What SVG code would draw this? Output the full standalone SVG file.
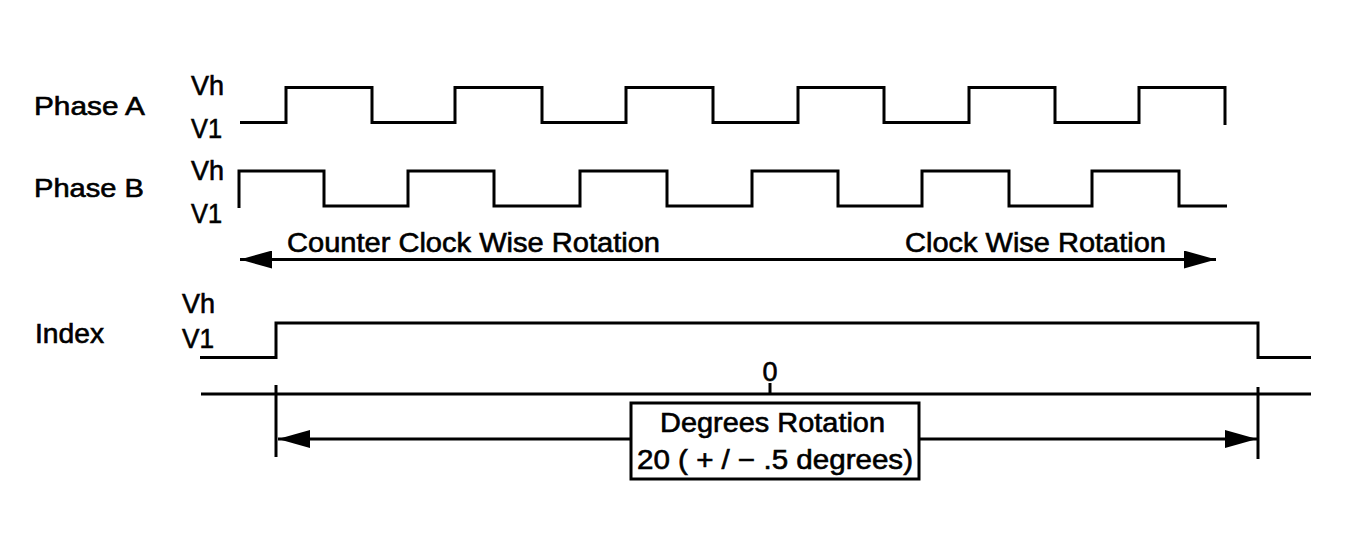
<svg xmlns="http://www.w3.org/2000/svg" width="1348" height="557" viewBox="0 0 1348 557">
<style>
text { font-family: "Liberation Sans", Arial, sans-serif; font-size: 27px; fill: #000; stroke: #000; stroke-width: 0.6; }
.w { fill: none; stroke: #000; stroke-width: 3; stroke-linejoin: miter; stroke-linecap: butt; }
</style>
<defs>
<marker id="ah" viewBox="0 0 32 18" refX="32" refY="9" markerWidth="32" markerHeight="18" markerUnits="userSpaceOnUse" orient="auto-start-reverse">
<path d="M0,0 L32,9 L0,18 Z" fill="#000"/>
</marker>
</defs>
<rect width="1348" height="557" fill="#fff"/>
<g id="phase-a">
<text x="34" y="115" textLength="111" lengthAdjust="spacingAndGlyphs" style="font-size:26px">Phase A</text>
<text x="191" y="95" textLength="33" lengthAdjust="spacingAndGlyphs">Vh</text>
<text x="191" y="138" textLength="31" lengthAdjust="spacingAndGlyphs">V1</text>
<path class="w" d="M240,122.5 H286 V87.5 H372 V122.5 H455 V87.5 H542 V122.5 H626 V87.5 H713 V122.5 H798 V87.5 H884 V122.5 H969 V87.5 H1055 V122.5 H1139 V87.5 H1225 V125"/>
</g>
<g id="phase-b">
<text x="34" y="197" textLength="110" lengthAdjust="spacingAndGlyphs" style="font-size:26px">Phase B</text>
<text x="191" y="180" textLength="33" lengthAdjust="spacingAndGlyphs">Vh</text>
<text x="191" y="223" textLength="31" lengthAdjust="spacingAndGlyphs">V1</text>
<path class="w" d="M239,208 V171 H324 V206 H408 V171 H494 V206 H580 V171 H667 V206 H752 V171 H838 V206 H922 V171 H1009 V206 H1092 V171 H1179 V206 H1227"/>
</g>
<g id="index">
<text x="35" y="343" textLength="69" lengthAdjust="spacingAndGlyphs">Index</text>
<text x="182" y="313" textLength="33" lengthAdjust="spacingAndGlyphs">Vh</text>
<text x="182" y="348" textLength="32" lengthAdjust="spacingAndGlyphs">V1</text>
<path class="w" d="M200,357.5 H276 V323 H1258 V357.5 H1311"/>
</g>
<g id="rotation-labels">
<text x="287" y="252" textLength="373" lengthAdjust="spacingAndGlyphs">Counter Clock Wise Rotation</text>
<text x="905" y="252" textLength="261" lengthAdjust="spacingAndGlyphs">Clock Wise Rotation</text>
</g>
<g id="scale">
<text x="770" y="381" text-anchor="middle">0</text>
<line class="w" x1="201" y1="394" x2="1311" y2="394"/>
<line class="w" x1="770" y1="383" x2="770" y2="394"/>
<line class="w" x1="276" y1="385" x2="276" y2="457"/>
<line class="w" x1="1258" y1="387" x2="1258" y2="459"/>
</g>
<g id="degrees-box">
<rect class="w" x="631" y="403" width="288" height="76" fill="#fff"/>
<text x="660" y="432" textLength="225" lengthAdjust="spacingAndGlyphs">Degrees Rotation</text>
<text x="637" y="469" textLength="276" lengthAdjust="spacingAndGlyphs">20 ( + / − .5 degrees)</text>
</g>
<g id="connectors">
<line class="w" x1="240" y1="259.5" x2="1216" y2="259.5" marker-start="url(#ah)" marker-end="url(#ah)"/>
<line class="w" x1="278" y1="439" x2="631" y2="439" marker-start="url(#ah)"/>
<line class="w" x1="919" y1="439" x2="1257" y2="439" marker-end="url(#ah)"/>
</g>
</svg>
